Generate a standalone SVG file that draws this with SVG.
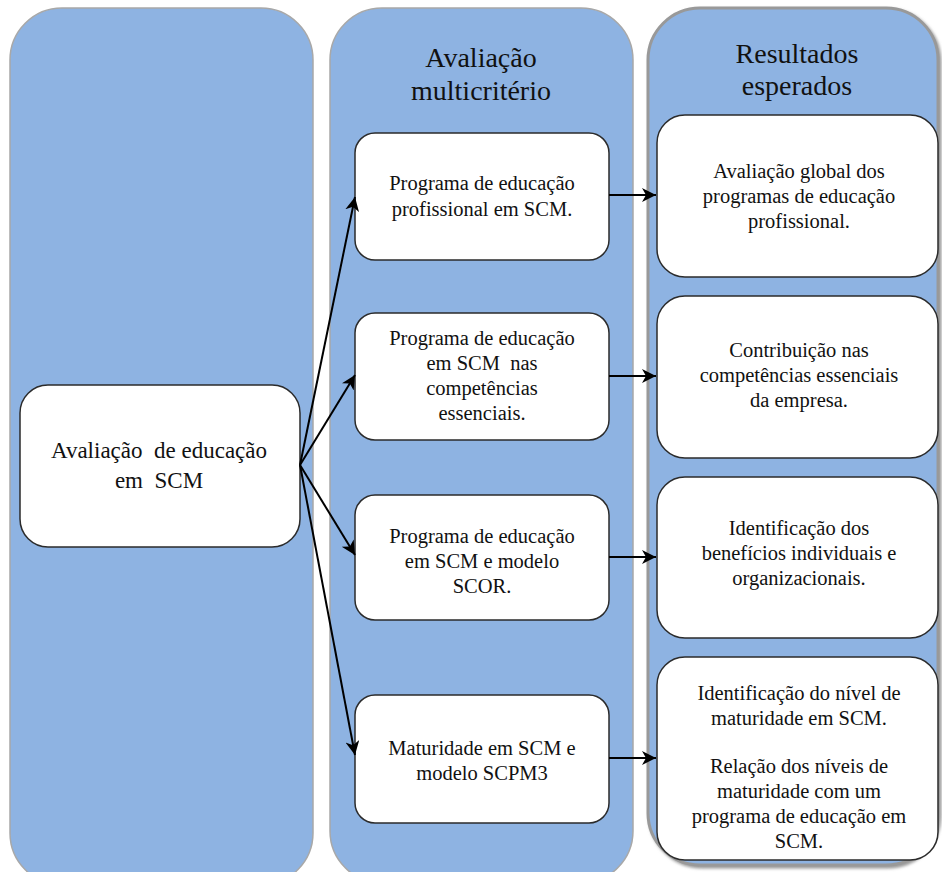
<svg xmlns="http://www.w3.org/2000/svg" width="942" height="872" viewBox="0 0 942 872">
  <style>
    .col { fill: #8EB3E2; stroke: #A8A8A8; stroke-width: 1.5; }
    .col3 { fill: #8EB3E2; stroke: #999999; stroke-width: 3; }
    .box { fill: #FFFFFF; stroke: #2B2B2B; stroke-width: 1.5; }
    text { font-family: 'Liberation Serif', 'Times New Roman', 'DejaVu Serif', serif; fill: #111; text-anchor: middle; }
    .hd { font-size: 28px; }
    .tx { font-size: 20.5px; }
    .tl { font-size: 23px; }
    .ar { stroke: #000; stroke-width: 2; fill: none; marker-end: url(#head); }
  </style>
  <defs>
    <marker id="head" markerUnits="userSpaceOnUse" markerWidth="16" markerHeight="16" refX="14" refY="7" orient="auto">
      <path d="M0,0 L14,7 L0,14 L4,7 Z" fill="#000"/>
    </marker>
    <filter id="shadow" x="-5%" y="-5%" width="110%" height="110%">
      <feDropShadow dx="2" dy="2" stdDeviation="1.5" flood-color="#7F7F7F" flood-opacity="0.8"/>
    </filter>
  </defs>

  <rect width="942" height="872" fill="#FFFFFF"/>

  <!-- column backgrounds -->
  <g id="col-avaliacao">
    <rect class="col" x="10" y="8" width="303" height="877" rx="52" ry="52"/>
  </g>
  <g id="col-multicriterio">
    <rect class="col" x="330" y="8" width="303" height="875" rx="52" ry="52"/>
    <text class="hd" x="481" y="67">Avaliação</text>
    <text class="hd" x="481" y="100">multicritério</text>
  </g>
  <g id="col-resultados">
    <rect class="col3" x="648" y="8" width="290" height="857" rx="52" ry="52" filter="url(#shadow)"/>
    <text class="hd" x="797" y="63">Resultados</text>
    <text class="hd" x="797" y="95">esperados</text>
  </g>

  <!-- source node -->
  <g id="n-avaliacao-educacao">
    <rect class="box" x="20" y="385" width="280" height="162" rx="28" ry="28"/>
    <text class="tl" x="159" y="458" xml:space="preserve">Avaliação  de educação</text>
    <text class="tl" x="159" y="488" xml:space="preserve">em  SCM</text>
  </g>

  <!-- multicriteria nodes -->
  <g id="n-prog-profissional">
    <rect class="box" x="355" y="133" width="254" height="127" rx="20" ry="20"/>
    <text class="tx" x="482" y="190">Programa de educação</text>
    <text class="tx" x="482" y="216">profissional em SCM.</text>
  </g>
  <g id="n-prog-competencias">
    <rect class="box" x="355" y="313" width="254" height="127" rx="20" ry="20"/>
    <text class="tx" x="482" y="345">Programa de educação</text>
    <text class="tx" x="482" y="370" xml:space="preserve">em SCM  nas</text>
    <text class="tx" x="482" y="395">competências</text>
    <text class="tx" x="482" y="420">essenciais.</text>
  </g>
  <g id="n-prog-scor">
    <rect class="box" x="355" y="495" width="254" height="125" rx="20" ry="20"/>
    <text class="tx" x="482" y="543">Programa de educação</text>
    <text class="tx" x="482" y="568">em SCM e modelo</text>
    <text class="tx" x="482" y="593">SCOR.</text>
  </g>
  <g id="n-maturidade">
    <rect class="box" x="355" y="695" width="254" height="128" rx="20" ry="20"/>
    <text class="tx" x="482" y="755">Maturidade em SCM e</text>
    <text class="tx" x="482" y="780">modelo SCPM3</text>
  </g>

  <!-- expected results nodes -->
  <g id="n-res-global">
    <rect class="box" x="657" y="115" width="281" height="162" rx="28" ry="28"/>
    <text class="tx" x="799" y="178">Avaliação global dos</text>
    <text class="tx" x="799" y="203">programas de educação</text>
    <text class="tx" x="799" y="228">profissional.</text>
  </g>
  <g id="n-res-competencias">
    <rect class="box" x="657" y="296" width="281" height="162" rx="28" ry="28"/>
    <text class="tx" x="799" y="357">Contribuição nas</text>
    <text class="tx" x="799" y="382">competências essenciais</text>
    <text class="tx" x="799" y="407">da empresa.</text>
  </g>
  <g id="n-res-beneficios">
    <rect class="box" x="657" y="477" width="281" height="161" rx="28" ry="28"/>
    <text class="tx" x="799" y="535">Identificação dos</text>
    <text class="tx" x="799" y="560">benefícios individuais e</text>
    <text class="tx" x="799" y="585">organizacionais.</text>
  </g>
  <g id="n-res-maturidade">
    <rect class="box" x="657" y="657" width="281" height="203" rx="28" ry="28"/>
    <text class="tx" x="799" y="700">Identificação do nível de</text>
    <text class="tx" x="799" y="725">maturidade em SCM.</text>
    <text class="tx" x="799" y="773">Relação dos níveis de</text>
    <text class="tx" x="799" y="798">maturidade com um</text>
    <text class="tx" x="799" y="823">programa de educação em</text>
    <text class="tx" x="799" y="848">SCM.</text>
  </g>

  <!-- connectors -->
  <g id="connectors">
    <line class="ar" x1="300" y1="465" x2="355" y2="197"/>
    <line class="ar" x1="300" y1="465" x2="355" y2="375"/>
    <line class="ar" x1="300" y1="465" x2="355" y2="555"/>
    <line class="ar" x1="300" y1="465" x2="355" y2="755"/>
    <line class="ar" x1="609" y1="195" x2="656" y2="195"/>
    <line class="ar" x1="609" y1="376" x2="656" y2="376"/>
    <line class="ar" x1="609" y1="557" x2="656" y2="557"/>
    <line class="ar" x1="609" y1="758" x2="656" y2="758"/>
  </g>
</svg>
